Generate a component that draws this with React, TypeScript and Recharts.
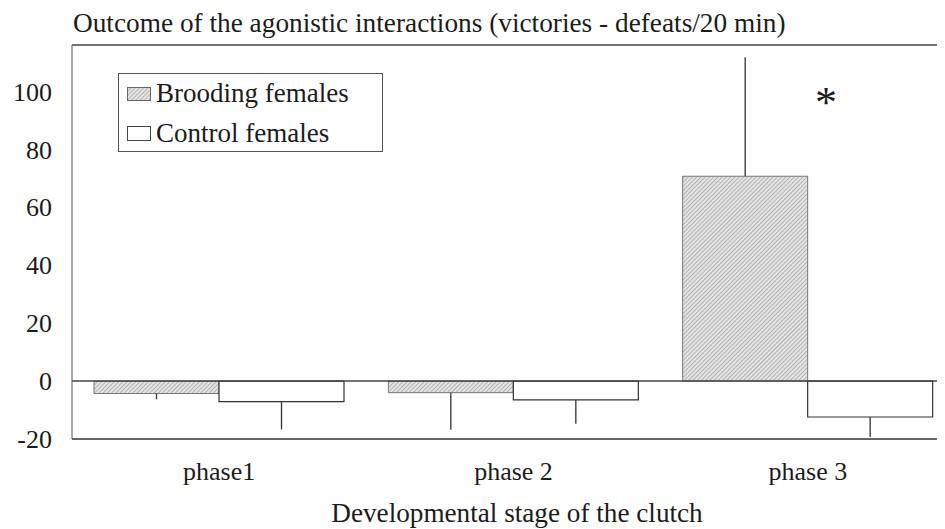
import { Bar, BarChart, ErrorBar, Legend, ReferenceLine, XAxis, YAxis } from "recharts";

const phases = ["phase1", "phase 2", "phase 3"];
const brooding = [-4.3, -4.0, 70.7];
const broodingErr: [number, number][] = [
  [2.0, 0],
  [12.8, 0],
  [0, 41.1]
];
const control = [-7.1, -6.5, -12.4];
const controlErr: [number, number][] = [
  [9.6, 0],
  [8.2, 0],
  [6.9, 0]
];
const yTicks = [-20, 0, 20, 40, 60, 80, 100];
const yTop = 116;

const data = phases.map((phase, i) => ({
  phase,
  brooding: brooding[i],
  broodingErr: broodingErr[i],
  control: control[i],
  controlErr: controlErr[i]
}));

const serif = "'Liberation Serif', 'Times New Roman', serif";
const ink = "#1c1c1c";

function Hatch({ id }: { id: string }) {
  return (
    <pattern id={id} patternUnits="userSpaceOnUse" width="3" height="3" patternTransform="rotate(45)">
      <rect width="3" height="3" fill="#e4e4e4" />
      <line x1="0" y1="0" x2="0" y2="3" stroke="#858585" strokeWidth="1" />
    </pattern>
  );
}

function LegendBox() {
  const text = { position: "absolute" as const, left: 37, fontSize: 27, lineHeight: "27px", whiteSpace: "nowrap" as const };
  return (
    <div
      style={{
        position: "relative",
        width: 265,
        height: 79,
        boxSizing: "border-box",
        border: "1px solid #555",
        background: "#fff",
        fontFamily: serif,
        color: ink
      }}
    >
      <svg width="24" height="14" style={{ position: "absolute", left: 8, top: 13 }}>
        <defs>
          <Hatch id="hatchLegend" />
        </defs>
        <rect x="0.5" y="0.5" width="23" height="13" fill="url(#hatchLegend)" stroke="#666" />
      </svg>
      <div style={{ ...text, top: 6 }}>Brooding females</div>
      <svg width="24" height="15" style={{ position: "absolute", left: 8, top: 52 }}>
        <rect x="0.5" y="0.5" width="23" height="14" fill="#fff" stroke="#444" />
      </svg>
      <div style={{ ...text, top: 46 }}>Control females</div>
    </div>
  );
}

export default function App() {
  return (
    <div style={{ position: "relative", width: 937, height: 521, overflow: "hidden", background: "#fff" }}>
      <div
        style={{
          position: "absolute",
          left: 65,
          top: 1,
          fontFamily: serif,
          fontSize: 27.3,
          lineHeight: "28px",
          color: ink,
          whiteSpace: "nowrap"
        }}
      >
        Outcome of the agonistic interactions (victories - defeats/20 min)
      </div>
      <BarChart
        width={958}
        height={521}
        data={data}
        margin={{ top: 37, right: 11, bottom: 0, left: 0 }}
        barGap={0}
        barSize={125}
        style={{ position: "absolute", left: 0, top: 0 }}
      >
        <defs>
          <Hatch id="hatchBar" />
        </defs>
        <XAxis
          dataKey="phase"
          height={90}
          tickLine={false}
          tickSize={0}
          tickMargin={22.5}
          axisLine={{ stroke: "#333", strokeWidth: 1.6 }}
          tick={{ fill: ink, fontSize: 26, fontFamily: serif }}
        />
        <YAxis
          width={64}
          domain={[-20, yTop]}
          ticks={yTicks}
          allowDataOverflow
          tickLine={false}
          tickSize={0}
          tickMargin={20}
          axisLine={{ stroke: "#555", strokeWidth: 1 }}
          tick={{ fill: ink, fontSize: 26, fontFamily: serif }}
        />
        <ReferenceLine y={yTop} stroke="#444" strokeWidth={1.5} />
        <Legend
          layout="vertical"
          align="center"
          verticalAlign="middle"
          wrapperStyle={{ left: 110, top: 65, width: 265, height: 79 }}
          content={() => <LegendBox />}
        />
        <Bar dataKey="brooding" name="Brooding females" fill="url(#hatchBar)" stroke="#777" strokeWidth={1} isAnimationActive={false}>
          <ErrorBar dataKey="broodingErr" direction="y" width={0} stroke="#333" strokeWidth={1.3} />
        </Bar>
        <Bar dataKey="control" name="Control females" fill="#fff" stroke="#333" strokeWidth={1.2} isAnimationActive={false}>
          <ErrorBar dataKey="controlErr" direction="y" width={0} stroke="#333" strokeWidth={1.3} />
        </Bar>
        <ReferenceLine y={0} stroke="#444" strokeWidth={1.6} />
      </BarChart>
      <div
        style={{
          position: "absolute",
          left: 798,
          top: 73,
          width: 40,
          textAlign: "center",
          fontFamily: serif,
          fontSize: 44,
          lineHeight: "44px",
          color: ink
        }}
      >
        *
      </div>
      <div
        style={{
          position: "absolute",
          left: 309,
          top: 492,
          width: 400,
          textAlign: "center",
          fontFamily: serif,
          fontSize: 27.2,
          lineHeight: "27px",
          color: ink,
          whiteSpace: "nowrap"
        }}
      >
        Developmental stage of the clutch
      </div>
    </div>
  );
}
